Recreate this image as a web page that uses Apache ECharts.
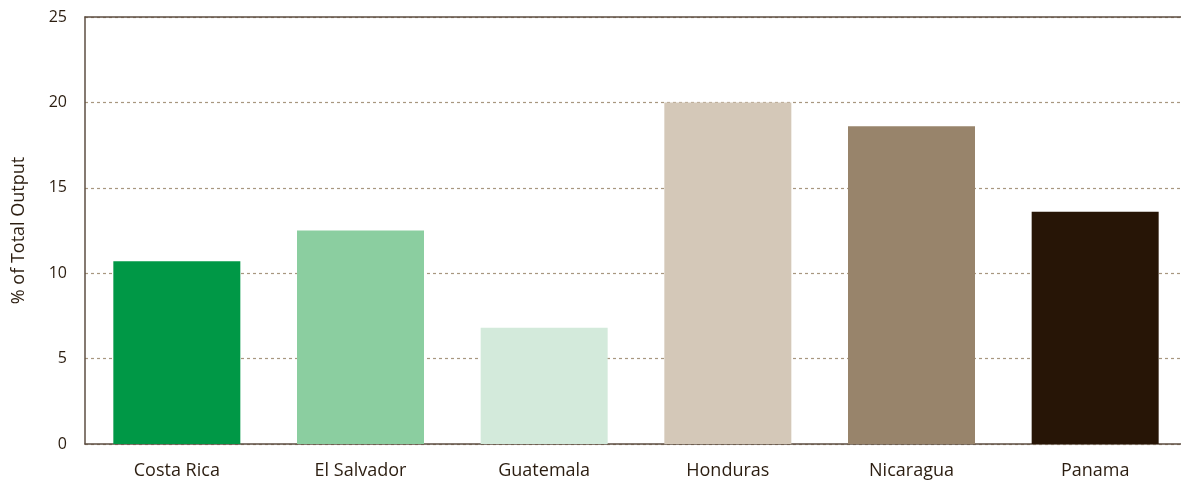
<!DOCTYPE html>
<html>
<head>
<meta charset="utf-8">
<script src="https://cdn.jsdelivr.net/npm/echarts@6/dist/echarts.min.js"></script>
<style>
  html, body { margin: 0; padding: 0; background: #fff; overflow: hidden; }
  #chart { width: 1190px; height: 480px; }
</style>
</head>
<body>
<div id="chart"></div>
<script>
const countries = ['Costa Rica', 'El Salvador', 'Guatemala', 'Honduras', 'Nicaragua', 'Panama'];
const shareOfOutput = [10.7, 12.5, 6.8, 20.0, 18.6, 13.6];
const barColors = ['#009846', '#8bcea0', '#d3eadb', '#d4c8b8', '#98846b', '#271506'];

const textColor = '#2b1d10';
const axisColor = '#5c4e42';

// plot runs a little past the right edge of the window, as in the source
const chart = echarts.init(document.getElementById('chart'));
chart.setOption({
  animation: false,
  textStyle: { fontFamily: 'Open Sans' },
  grid: { left: 85, right: 3, top: 17, bottom: 36, containLabel: false },
  xAxis: [
    {
      type: 'category',
      data: countries,
      axisLine: { lineStyle: { color: axisColor, width: 1.5 } },
      axisTick: { show: false },
      axisLabel: { color: textColor, fontSize: 18, margin: 18 }
    },
    {
      // top border line of the plot
      type: 'category',
      data: countries,
      position: 'top',
      axisLine: { lineStyle: { color: axisColor, width: 1.5 } },
      axisTick: { show: false },
      axisLabel: { show: false }
    }
  ],
  yAxis: {
    type: 'value',
    min: 0,
    max: 25,
    interval: 5,
    name: '% of Total Output',
    nameLocation: 'middle',
    nameGap: 57,
    nameTextStyle: { color: textColor, fontSize: 18 },
    axisLine: { show: true, lineStyle: { color: axisColor, width: 1.5 } },
    axisTick: { show: false },
    axisLabel: { color: textColor, fontSize: 16, margin: 18 },
    splitLine: { lineStyle: { color: '#a8977f', type: [3, 3], width: 1.2 } }
  },
  series: [{
    type: 'bar',
    xAxisIndex: 0,
    data: shareOfOutput.map((v, i) => ({ value: v, itemStyle: { color: barColors[i] } })),
    barWidth: 127
  }]
});
</script>
</body>
</html>
